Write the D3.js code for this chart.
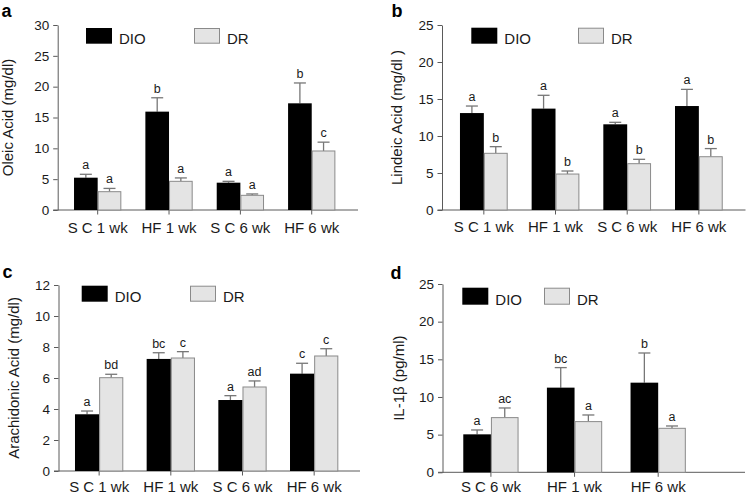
<!DOCTYPE html>
<html><head><meta charset="utf-8">
<script src="https://cdn.jsdelivr.net/npm/d3@7"></script>
<style>
html,body{margin:0;padding:0;background:#fff;}
svg{display:block;font-family:"Liberation Sans",Arial,sans-serif;}
</style></head><body>
<svg id="c" width="748" height="495"></svg>
<script>
// ---- data ----
const catsABC = ["S C 1 wk", "HF 1 wk", "S C 6 wk", "HF 6 wk"];
const catsD = ["S C 6 wk", "HF 1 wk", "HF 6 wk"];
const seriesNames = ["DIO", "DR"];

const oleicDIO = [5.24, 15.95, 4.43, 17.3];
const oleicDIOerr = [0.55, 2.25, 0.22, 3.3];
const oleicDR = [2.97, 4.65, 2.38, 9.57];
const oleicDRerr = [0.53, 0.55, 0.22, 1.43];
const oleicDIOsig = ["a", "b", "a", "b"];
const oleicDRsig = ["a", "a", "a", "c"];
const oleicTicks = [0, 5, 10, 15, 20, 25, 30];

const linoDIO = [13.1, 13.7, 11.58, 14.05];
const linoDIOerr = [0.95, 1.8, 0.27, 2.25];
const linoDR = [7.66, 4.86, 6.26, 7.2];
const linoDRerr = [0.9, 0.41, 0.59, 1.1];
const linoDIOsig = ["a", "a", "a", "a"];
const linoDRsig = ["b", "b", "b", "b"];
const linoTicks = [0, 5, 10, 15, 20, 25];

const arachDIO = [3.66, 7.23, 4.58, 6.28];
const arachDIOerr = [0.21, 0.4, 0.28, 0.67];
const arachDR = [6.02, 7.29, 5.42, 7.42];
const arachDRerr = [0.22, 0.41, 0.39, 0.47];
const arachDIOsig = ["a", "bc", "a", "c"];
const arachDRsig = ["bd", "c", "ad", "c"];
const arachTicks = [0, 2, 4, 6, 8, 10, 12];

const ilDIO = [5.04, 11.24, 11.9];
const ilDIOerr = [0.58, 2.66, 3.94];
const ilDR = [7.26, 6.73, 5.84];
const ilDRerr = [1.28, 0.88, 0.31];
const ilDIOsig = ["a", "bc", "b"];
const ilDRsig = ["ac", "a", "a"];
const ilTicks = [0, 5, 10, 15, 20, 25];

// ---- layout ----
const panels = [
  {label:"a", title:"Oleic Acid (mg/dl)", cats:catsABC, dio:oleicDIO, dioErr:oleicDIOerr, dr:oleicDR, drErr:oleicDRerr,
   dioSig:oleicDIOsig, drSig:oleicDRsig, ticks:oleicTicks,
   ax:57.7, axEnd:358, yTop:25, yBot:210, band:[62,347.4], pad:0.337,
   labelX:1.5, labelY:17, titleX:12.5, xlabOff:22.5,
   leg:{y:28, h:15.7, r1:86, r2:194, w:26}},
  {label:"b", title:"Lindeic Acid (mg/dl )", cats:catsABC, dio:linoDIO, dioErr:linoDIOerr, dr:linoDR, drErr:linoDRerr,
   dioSig:linoDIOsig, drSig:linoDRsig, ticks:linoTicks,
   ax:442, axEnd:745.5, yTop:25, yBot:210, band:[448,734.7], pad:0.334,
   labelX:391.5, labelY:17, titleX:401.5, xlabOff:22,
   leg:{y:27.7, h:16, r1:471.3, r2:578, w:26}},
  {label:"c", title:"Arachidonic Acid (mg/dl)", cats:catsABC, dio:arachDIO, dioErr:arachDIOerr, dr:arachDR, drErr:arachDRerr,
   dioSig:arachDIOsig, drSig:arachDRsig, ticks:arachTicks,
   ax:58.5, axEnd:360, yTop:285, yBot:471, band:[63.3,350], pad:0.326,
   labelX:2.5, labelY:278, titleX:19, xlabOff:21,
   leg:{y:285.7, h:16, r1:81.7, r2:190, w:26}},
  {label:"d", title:"IL-1β (pg/ml)", cats:catsD, dio:ilDIO, dioErr:ilDIOerr, dr:ilDR, drErr:ilDRerr,
   dioSig:ilDIOsig, drSig:ilDRsig, ticks:ilTicks,
   ax:442.5, axEnd:745, yTop:284, yBot:472.3, band:[449.1,700], pad:0.339,
   labelX:390.5, labelY:278.5, titleX:403.5, xlabOff:19.5,
   leg:{y:287.7, h:17, r1:462.3, r2:544, w:26}}
];

const svg = d3.select("#c");
const AX = "#5a5a5a", ERR = "#777", DRFILL = "#e4e4e4", DRSTROKE = "#8a8a8a", TXT = "#1a1a1a";

panels.forEach(p => {
  const g = svg.append("g");
  const y = d3.scaleLinear().domain([0, d3.max(p.ticks)]).range([p.yBot, p.yTop]);
  const x = d3.scaleBand().domain(p.cats).range(p.band).paddingInner(p.pad).paddingOuter(p.pad/2);
  const xs = d3.scaleBand().domain(seriesNames).range([0, x.bandwidth()]);

  // y axis
  const yAxis = d3.axisLeft(y).tickValues(p.ticks).tickSize(4.5).tickPadding(4).tickSizeOuter(0);
  const ya = g.append("g").attr("transform", `translate(${p.ax},0)`).call(yAxis);
  ya.select(".domain").attr("stroke", AX);
  ya.selectAll(".tick line").attr("stroke", AX);
  ya.selectAll(".tick text").attr("fill", TXT).style("font-size", "13.5px")
    .style("font-family", '"Liberation Sans",Arial,sans-serif');

  // x axis line
  g.append("line").attr("x1", p.ax - 4.5).attr("x2", p.axEnd).attr("y1", p.yBot).attr("y2", p.yBot)
    .attr("stroke", AX).attr("stroke-width", 1);
  // x ticks + labels
  p.cats.forEach(c => {
    const cx = x(c) + x.bandwidth()/2;
    g.append("line").attr("x1", cx).attr("x2", cx).attr("y1", p.yBot).attr("y2", p.yBot + 4.5).attr("stroke", AX);
    g.append("text").attr("x", cx).attr("y", p.yBot + p.xlabOff).attr("text-anchor", "middle")
      .attr("fill", TXT).style("font-size", "15px").text(c);
  });

  const series = [
    {name:"DIO", vals:p.dio, err:p.dioErr, sig:p.dioSig, fill:"#000", stroke:"none"},
    {name:"DR", vals:p.dr, err:p.drErr, sig:p.drSig, fill:DRFILL, stroke:DRSTROKE}
  ];
  series.forEach(s => {
    p.cats.forEach((c, i) => {
      const bx = x(c) + xs(s.name), bw = xs.bandwidth();
      const v = s.vals[i], top = y(v), et = y(v + s.err[i]);
      const cx = bx + bw/2;
      // error bar
      g.append("line").attr("x1", cx).attr("x2", cx).attr("y1", top).attr("y2", et).attr("stroke", ERR).attr("stroke-width", 1.3);
      g.append("line").attr("x1", cx - 6).attr("x2", cx + 6).attr("y1", et).attr("y2", et).attr("stroke", ERR).attr("stroke-width", 1.3);
      // bar
      g.append("rect").attr("x", bx + (s.stroke === "none" ? 0 : 0.5)).attr("y", top)
        .attr("width", bw - (s.stroke === "none" ? 0 : 1)).attr("height", p.yBot - top)
        .attr("fill", s.fill).attr("stroke", s.stroke).attr("stroke-width", 1);
      // significance letter
      g.append("text").attr("x", cx).attr("y", et - 5).attr("text-anchor", "middle")
        .attr("fill", TXT).style("font-size", "12.5px").text(s.sig[i]);
    });
  });

  // legend
  const L = p.leg;
  g.append("rect").attr("x", L.r1).attr("y", L.y).attr("width", L.w).attr("height", L.h).attr("fill", "#000");
  g.append("text").attr("x", L.r1 + L.w + 7).attr("y", L.y + L.h).attr("fill", TXT).style("font-size", "15px").text(seriesNames[0]);
  g.append("rect").attr("x", L.r2 + 0.5).attr("y", L.y + 0.5).attr("width", L.w - 1).attr("height", L.h - 1)
    .attr("fill", DRFILL).attr("stroke", DRSTROKE);
  g.append("text").attr("x", L.r2 + L.w + 7).attr("y", L.y + L.h).attr("fill", TXT).style("font-size", "15px").text(seriesNames[1]);

  // y title
  const ty = (p.yTop + p.yBot)/2;
  g.append("text").attr("transform", `translate(${p.titleX},${ty}) rotate(-90)`).attr("text-anchor", "middle")
    .attr("fill", TXT).style("font-size", "15px").text(p.title);

  // panel label
  g.append("text").attr("x", p.labelX).attr("y", p.labelY).attr("fill", "#000")
    .style("font-size", "18px").style("font-weight", "bold").text(p.label);
});
</script>
</body></html>
